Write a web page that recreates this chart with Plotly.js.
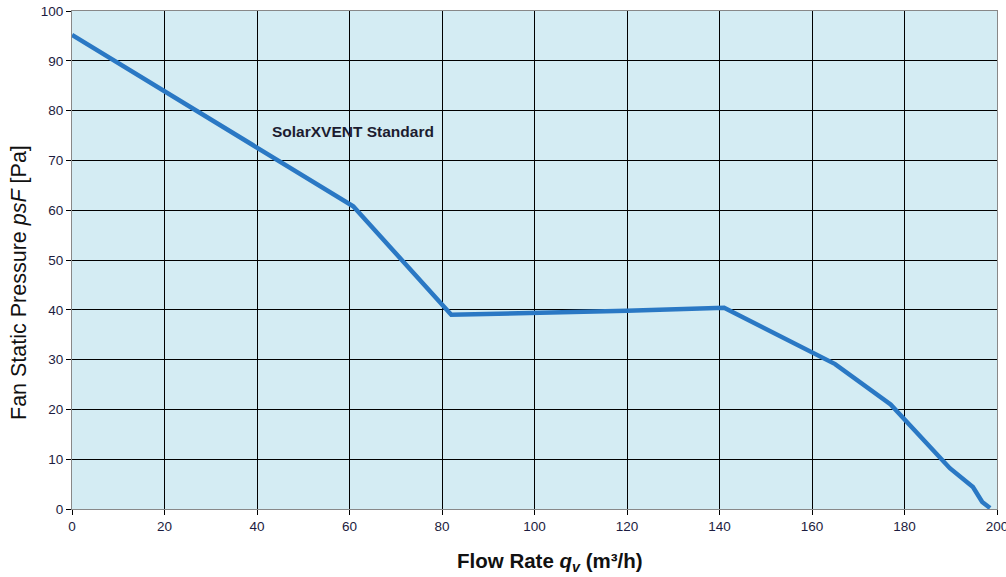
<!DOCTYPE html>
<html><head><meta charset="utf-8">
<script src="https://cdn.plot.ly/plotly-3.0.1.min.js"></script>
<style>html,body{margin:0;padding:0;background:#fff}#chart{width:1006px;height:577px}</style>
</head><body><div id="chart"></div>
<script>
const flowRate = [0, 20, 40, 60.8, 82, 100, 120, 141, 165, 177, 178, 187.7, 189.8, 194.8, 196.8, 198.5];
const pressure = [95.2, 83.8, 72.4, 60.8, 39.0, 39.3, 39.8, 40.4, 29.1, 21.0, 20.0, 10.0, 8.2, 4.4, 1.4, 0.2];
const seriesName = "SolarXVENT Standard";
const xTicks = [0, 20, 40, 60, 80, 100, 120, 140, 160, 180, 200];
const yTicks = [0, 10, 20, 30, 40, 50, 60, 70, 80, 90, 100];
const xTitle = "<b>Flow Rate <i>q</i><sub><i>v</i></sub> (m³/h)</b>";
const yTitle = "Fan Static Pressure <i>psF</i> [Pa]";

const fam = "Liberation Sans, Arial, sans-serif";
const tickFont = {family: fam, size: 13.5, color: "#1c1c40"};
Plotly.newPlot("chart", [{
  x: flowRate, y: pressure, type: "scatter", mode: "lines", name: seriesName,
  line: {color: "#2a78c4", width: 4.5}
}], {
  width: 1006, height: 577,
  margin: {l: 72, r: 9, t: 11, b: 68},
  paper_bgcolor: "#ffffff", plot_bgcolor: "#d4ecf3",
  showlegend: false,
  xaxis: {
    range: [0, 200], tickvals: xTicks, ticktext: xTicks.map(String),
    showgrid: true, gridcolor: "#000000", gridwidth: 1,
    ticks: "outside", ticklen: 5, tickcolor: "#000", tickfont: tickFont,
    ticklabeloverflow: "allow",
    showline: true, linecolor: "#888", mirror: true, zeroline: false
  },
  yaxis: {
    range: [0, 100], tickvals: yTicks, ticktext: yTicks.map(String),
    showgrid: true, gridcolor: "#000000", gridwidth: 1,
    ticks: "outside", ticklen: 5, tickcolor: "#000", tickfont: tickFont,
    ticklabeloverflow: "allow",
    showline: true, linecolor: "#888", mirror: true, zeroline: false
  },
  annotations: [{
    x: 42.8, y: 75.9, xref: "x", yref: "y", xanchor: "left", yanchor: "middle",
    text: "<b>" + seriesName + "</b>", showarrow: false,
    font: {family: fam, size: 15.5, color: "#1c1c30"}
  }, {
    x: (550 - 72) / 925, y: (509 - 562) / 498, xref: "paper", yref: "paper",
    xanchor: "center", yanchor: "middle", showarrow: false,
    text: xTitle, font: {family: fam, size: 20.5, color: "#111"}
  }, {
    x: (19 - 72) / 925, y: (509 - 283) / 498, xref: "paper", yref: "paper",
    xanchor: "center", yanchor: "middle", showarrow: false, textangle: -90,
    text: yTitle, font: {family: fam, size: 21.5, color: "#111"}
  }]
}, {displayModeBar: false, staticPlot: true});
</script></body></html>
